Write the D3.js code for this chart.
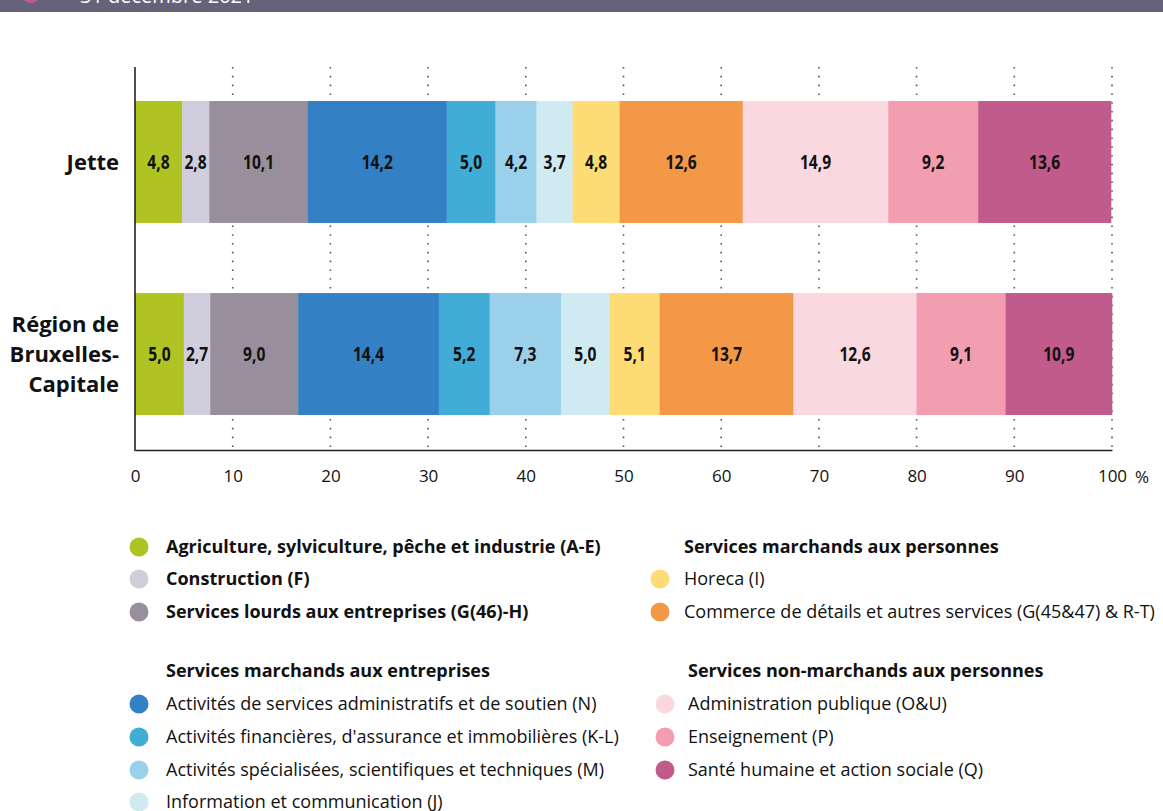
<!DOCTYPE html>
<html><head><meta charset="utf-8">
<script src="https://cdn.jsdelivr.net/npm/d3@7"></script>
<style>body{margin:0;background:#fff}svg{display:block}</style>
</head><body>
<script>
const categories = ["Jette", "Région de Bruxelles-Capitale"];
const categoryLines = [["Jette"], ["Région de", "Bruxelles-", "Capitale"]];
const sectors = [
 "Agriculture, sylviculture, pêche et industrie (A-E)",
 "Construction (F)",
 "Services lourds aux entreprises (G(46)-H)",
 "Activités de services administratifs et de soutien (N)",
 "Activités financières, d'assurance et immobilières (K-L)",
 "Activités spécialisées, scientifiques et techniques (M)",
 "Information et communication (J)",
 "Horeca (I)",
 "Commerce de détails et autres services (G(45&47) & R-T)",
 "Administration publique (O&U)",
 "Enseignement (P)",
 "Santé humaine et action sociale (Q)"
];
const jetteValues = [4.8, 2.8, 10.1, 14.2, 5.0, 4.2, 3.7, 4.8, 12.6, 14.9, 9.2, 13.6];
const regionValues = [5.0, 2.7, 9.0, 14.4, 5.2, 7.3, 5.0, 5.1, 13.7, 12.6, 9.1, 10.9];
const colors = ["#afc423","#d0cedd","#998f9c","#3380c4","#41acd6","#9bd0ea","#d0eaf1","#fedc75","#f39846","#fad8df","#f29eb0","#c05b8c"];
const xTicks = [0,10,20,30,40,50,60,70,80,90,100];
const groupHeadings = ["Services marchands aux entreprises","Services marchands aux personnes","Services non-marchands aux personnes"];

const W = 1163, H = 811;
const svg = d3.select("body").append("svg").attr("width", W).attr("height", H);

// header band
svg.append("rect").attr("x",0).attr("y",0).attr("width",W).attr("height",12).attr("fill","#66627a");
svg.append("circle").attr("cx",31).attr("cy",-7).attr("r",10).attr("fill","#c05b8c");
svg.append("text").attr("x",80).attr("y",3).attr("fill","#fff").attr("font-family","Open Sans, sans-serif").attr("font-size",20).text("31 décembre 2021");

const x = d3.scaleLinear().domain([0,100]).range([135,1112]);
const y = d3.scaleBand().domain(categories).range([67,449]).paddingInner(0.365).paddingOuter(0.177);

const font = "'Open Sans', 'Noto Sans', sans-serif";

// dotted gridlines
svg.append("g").selectAll("line").data(xTicks.filter(d=>d>0)).join("line")
  .attr("x1",d=>x(d)).attr("x2",d=>x(d)).attr("y1",67).attr("y2",449)
  .attr("stroke","#555").attr("stroke-width",1.6).attr("stroke-dasharray","1.6,7.2");

// bars
const rows = [jetteValues, regionValues];
rows.forEach((vals, ri) => {
  let acc = 0;
  const segs = vals.map((v,i)=>{const s={x0:acc,x1:acc+v,v,i}; acc+=v; return s;});
  const g = svg.append("g");
  g.selectAll("rect").data(segs).join("rect")
    .attr("x",d=>x(d.x0)).attr("width",d=>x(d.x1)-x(d.x0)+0.3)
    .attr("y",y(categories[ri])).attr("height",y.bandwidth())
    .attr("fill",d=>colors[d.i]);
  g.selectAll("text").data(segs).join("text")
    .attr("transform",d=>`translate(${(x(d.x0)+x(d.x1))/2},${y(categories[ri])+y.bandwidth()/2+7}) scale(0.78,1)`)
    .attr("text-anchor","middle").attr("font-family",font).attr("font-weight","bold")
    .attr("font-size",20).attr("fill","#111")
    .text(d=>d3.format(".1f")(d.v).replace(".",","));
});

// category labels
categories.forEach((c,ri)=>{
  const lines = categoryLines[ri];
  const cy = y(c)+y.bandwidth()/2;
  const lh = 30;
  lines.forEach((l,li)=>{
    svg.append("text").attr("x",119).attr("y",cy + (li-(lines.length-1)/2)*lh + 8)
      .attr("text-anchor","end").attr("font-family",font).attr("font-weight","bold")
      .attr("font-size",22).attr("fill","#111").text(l);
  });
});

// axes
const xAxis = d3.axisBottom(x).tickValues(xTicks).tickSize(0).tickPadding(20).tickFormat(d3.format("d"));
const ax = svg.append("g").attr("transform","translate(0,450)").call(xAxis);
ax.select(".domain").attr("stroke","#222").attr("stroke-width",1.6);
ax.selectAll("text").attr("font-family",font).attr("font-size",17).attr("fill","#111");
svg.append("text").attr("x",1135).attr("y",483).attr("font-family",font).attr("font-size",17).attr("fill","#111").text("%");
svg.append("line").attr("x1",135).attr("x2",135).attr("y1",67).attr("y2",451).attr("stroke","#222").attr("stroke-width",1.6);

// legend
function item(i, cx, tx, cy, bold){
  svg.append("circle").attr("cx",cx).attr("cy",cy).attr("r",9.5).attr("fill",colors[i]);
  svg.append("text").attr("x",tx).attr("y",cy+6).attr("font-family",font).attr("font-size",18)
    .attr("font-weight",bold?"bold":"normal").attr("fill","#111").text(sectors[i]);
}
function heading(t, tx, cy){
  svg.append("text").attr("x",tx).attr("y",cy+6).attr("font-family",font).attr("font-size",18)
    .attr("font-weight","bold").attr("fill","#111").text(t);
}
item(0,139,166,547,true);
item(1,139,166,579,true);
item(2,139,166,612,true);
heading(groupHeadings[1],684,547);
item(7,660,684,579,false);
item(8,660,684,612,false);
heading(groupHeadings[0],166,671);
item(3,139,166,704,false);
item(4,139,166,737,false);
item(5,139,166,770,false);
item(6,139,166,802,false);
heading(groupHeadings[2],688,671);
item(9,665,688,704,false);
item(10,665,688,737,false);
item(11,665,688,770,false);
</script>
</body></html>
